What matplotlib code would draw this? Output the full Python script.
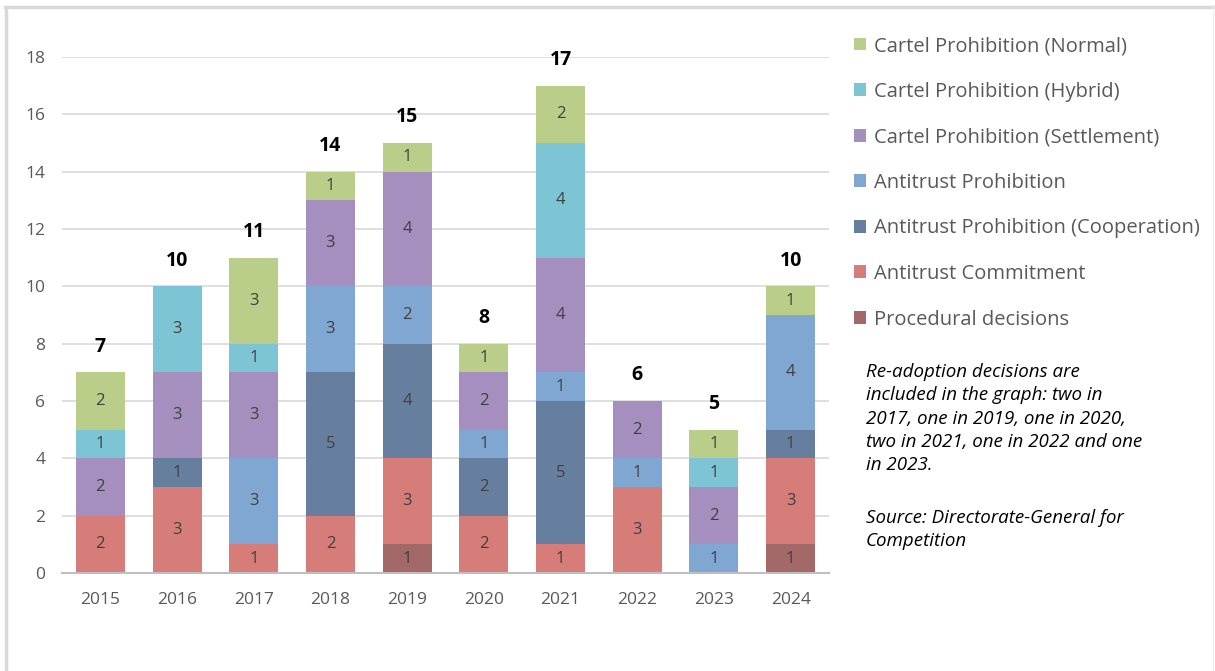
import matplotlib
matplotlib.use("Agg")
import matplotlib.pyplot as plt
from matplotlib.patches import Patch
from matplotlib.lines import Line2D
import numpy as np

years = ["2015", "2016", "2017", "2018", "2019", "2020", "2021", "2022", "2023", "2024"]

# stacking order: bottom -> top
procedural = [0, 0, 0, 0, 1, 0, 0, 0, 0, 1]
commitment = [2, 3, 1, 2, 3, 2, 1, 3, 0, 3]
cooperation = [0, 1, 0, 5, 4, 2, 5, 0, 0, 1]
antitrust_prohibition = [0, 0, 3, 3, 2, 1, 1, 1, 1, 4]
settlement = [2, 3, 3, 3, 4, 2, 4, 2, 2, 0]
hybrid = [1, 3, 1, 0, 0, 0, 4, 0, 1, 0]
normal = [2, 0, 3, 1, 1, 1, 2, 0, 1, 1]

series_names = ["Procedural decisions", "Antitrust Commitment",
                "Antitrust Prohibition (Cooperation)", "Antitrust Prohibition",
                "Cartel Prohibition (Settlement)", "Cartel Prohibition (Hybrid)",
                "Cartel Prohibition (Normal)"]
series_values = [procedural, commitment, cooperation, antitrust_prohibition,
                 settlement, hybrid, normal]
colors = ["#A36868", "#D67C79", "#677F9F", "#80A6D2",
          "#A48FBF", "#7DC4D5", "#BACE8A"]

note_text = ("Re-adoption decisions are\nincluded in the graph: two in\n"
             "2017, one in 2019, one in 2020,\ntwo in 2021, one in 2022 and one\n"
             "in 2023.")
source_text = "Source: Directorate-General for\nCompetition"

FONT = ["Open Sans", "DejaVu Sans"]
plt.rcParams["font.family"] = FONT

W, H = 1215, 671
fig = plt.figure(figsize=(W / 100, H / 100), dpi=100)
ax = fig.add_axes([62 / W, 1 - 573 / H, (829 - 62) / W, (573 - 57) / H])

x = np.arange(len(years))
bottom = np.zeros(len(years))
for name, vals, c in zip(series_names, series_values, colors):
    v = np.array(vals, dtype=float)
    ax.bar(x, v, width=0.64, bottom=bottom, color=c, zorder=2)
    for xi, b, vi in zip(x, bottom, v):
        if vi > 0:
            ax.text(xi, b + vi / 2, f"{int(vi)}", ha="center", va="center",
                    fontsize=12, color="#404040", zorder=3)
    bottom += v

for xi, t in zip(x, bottom):
    ax.text(xi, t + 0.9, f"{int(t)}", ha="center", va="center",
            fontsize=14, fontweight="bold", color="black", clip_on=False)

ax.set_xlim(-0.5, len(years) - 0.5)
ax.set_ylim(0, 18)
ax.set_yticks(np.arange(0, 19, 2))
ax.set_xticks(x)
ax.set_xticklabels(years)
ax.tick_params(axis="both", length=0, labelsize=12.5, colors="#595959")
ax.tick_params(axis="x", pad=14)
ax.tick_params(axis="y", pad=12)
ax.grid(axis="y", color="#D9D9D9", linewidth=1.2, zorder=0)
ax.set_axisbelow(True)
for s in ["top", "right", "left"]:
    ax.spines[s].set_visible(False)
ax.spines["bottom"].set_color("#BFBFBF")
ax.spines["bottom"].set_linewidth(1.5)
ax.spines["bottom"].set_zorder(4)

# legend (top entry first)
handles = [Patch(facecolor=c, edgecolor="none") for c in colors[::-1]]
leg = fig.legend(handles, series_names[::-1], loc="upper left",
                 bbox_to_anchor=(844 / W, 1 - 26 / H), frameon=False,
                 fontsize=14.5, handlelength=0.6, handleheight=0.6,
                 handletextpad=0.4, labelspacing=1.27, borderpad=0)
for t in leg.get_texts():
    t.set_color("#595959")

fig.text(866 / W, 1 - 363 / H, note_text, ha="left", va="top",
         fontsize=13.5, style="italic", color="black", linespacing=1.38)
fig.text(866 / W, 1 - 509 / H, source_text, ha="left", va="top",
         fontsize=13.5, style="italic", color="black", linespacing=1.38)

# outer frame
fc = "#D9D9D9"
fig.add_artist(Line2D([5 / W, 1213 / W], [1 - 6.5 / H, 1 - 6.5 / H],
                      transform=fig.transFigure, color=fc, linewidth=2.5))
fig.add_artist(Line2D([5.5 / W, 5.5 / W], [0, 1 - 6.5 / H],
                      transform=fig.transFigure, color=fc, linewidth=2.5))
fig.add_artist(Line2D([1213 / W, 1213 / W], [0, 1 - 6.5 / H],
                      transform=fig.transFigure, color="#F0F0F0", linewidth=1))

fig.savefig("out.png", dpi=100, facecolor="white")
